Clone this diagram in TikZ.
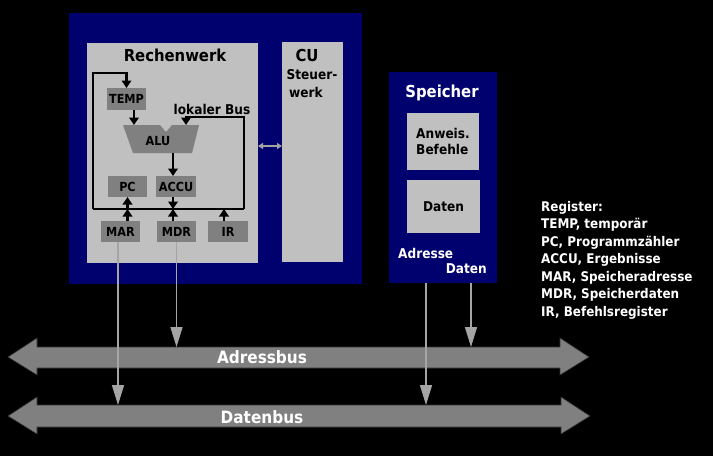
\documentclass[tikz,border=0pt]{standalone}
\usepackage{fontspec}
\setmainfont{DejaVu Sans Condensed}
\usetikzlibrary{arrows.meta}
\definecolor{navy}{RGB}{0,0,110}
\definecolor{lightg}{RGB}{192,192,192}
\definecolor{darkg}{RGB}{128,128,128}
\definecolor{busg}{RGB}{128,128,128}
\definecolor{conng}{RGB}{165,165,165}
\newcommand{\fsz}[1]{\bfseries\fontsize{#1}{#1}\selectfont}
\begin{document}
\begin{tikzpicture}[x=1pt,y=-1pt,
  box/.style={draw=none,inner sep=0pt,outer sep=0pt},
  reg/.style={box,fill=darkg,text=black,minimum height=21pt,font=\fsz{12.5}},
  title/.style={inner sep=0pt,font=\fsz{16.5}},
  lbl/.style={inner sep=0pt,font=\fsz{13.5}},
  wire/.style={draw=black,line width=2.2pt},
  wtip/.style={wire,-{Triangle[length=7.5pt,width=9.5pt]}},
  conn/.style={draw=conng,line width=1.5pt,-{Triangle[length=20pt,width=12pt]}},
  busshape/.style={fill=busg,draw=black!60!busg,line width=0.6pt},
  buslbl/.style={inner sep=0pt,text=white,font=\fsz{17}}
]
\fill[black] (0,0) rectangle (713,456);
\useasboundingbox (0,0) rectangle (713,456);

% CPU
\node[box,fill=navy,minimum width=293pt,minimum height=271pt] (cpu) at (215.5,148.5) {};
\node[box,fill=lightg,minimum width=171pt,minimum height=220pt] (rw) at (172.5,153) {};
\node[box,fill=lightg,minimum width=61pt,minimum height=220pt] (cu) at (312.5,152) {};
\node[title] (rwt) at (175,55) {Rechenwerk};
\node[title] (cut) at (307,55) {CU};
\node[lbl] (st1) at (312,75) {Steuer-};
\node[lbl] (st2) at (306,92) {werk};

\node[reg,minimum width=39pt,minimum height=22pt] (temp) at (126.5,99) {TEMP};
\node[reg,minimum width=39pt] (pc) at (127.5,186.5) {PC};
\node[reg,minimum width=40pt] (accu) at (176,186.5) {ACCU};
\node[reg,minimum width=39pt] (mar) at (120.5,231.5) {MAR};
\node[reg,minimum width=39pt] (mdr) at (176.5,231.5) {MDR};
\node[reg,minimum width=40pt] (ir) at (228,231.5) {IR};

% ALU
\fill[darkg] (123,125) -- (160,125) -- (166,132) -- (172,125) -- (199,125) -- (192,153) -- (133,153) -- cycle;
\node[inner sep=0pt,font=\fsz{12.5}] (alu) at (158,141) {ALU};
\node[lbl] (lok) at (212,109) {lokaler Bus};

% local bus
\coordinate (lbl) at (93,209);
\coordinate (lbr) at (244,209);
\coordinate (ltl) at (93,73);
\coordinate (rtop) at (244,117);
\coordinate (rtl) at (186,117);
\coordinate (aluR) at (186,125);
\coordinate (aluL) at (134,125);
\coordinate (aluB) at (173,153);
\coordinate (irUp) at (224,209);

\draw[wire] (lbl) -- (lbr);
\draw[wtip] (lbl) -- (ltl) -- (ltl -| temp.north) -- (temp.north);
\draw[wtip] (lbr) -- (rtop) -- (rtl) -- (aluR);
\draw[wtip] (temp.south -| aluL) -- (aluL);
\draw[wtip] (aluB) -- (aluB |- accu.north);
\draw[wtip] (lbl -| pc.south) -- (pc.south);
\draw[wtip] (mar.north -| pc.south) -- (lbl -| pc.south);
\draw[wtip] (accu.south -| aluB) -- (lbl -| aluB);
\draw[wtip] (mdr.north -| aluB) -- (lbl -| aluB);
\draw[wtip] (ir.north -| irUp) -- (irUp);

\draw[draw=lightg!85!black,line width=1.5pt,{Triangle[length=5pt,width=6pt]}-{Triangle[length=5pt,width=6pt]}] (rw.east |- 0,146) -- (cu.west |- 0,146);

% Speicher
\node[box,fill=navy,minimum width=108pt,minimum height=211pt] (sp) at (443,177.5) {};
\node[title,text=white] (spt) at (442,93) {Speicher};
\node[box,fill=lightg,minimum width=72pt,minimum height=57pt,align=left,font=\bfseries\fontsize{13.5}{15.5}\selectfont] (anw) at (443,141.5) {Anweis.\\Befehle};
\node[box,fill=lightg,minimum width=73pt,minimum height=53pt,font=\fsz{13.5}] (dat) at (443.5,206.5) {Daten};
\node[lbl,text=white,anchor=west] (adr) at (398,253) {Adresse};
\node[lbl,text=white,anchor=east] (dt) at (487,269) {Daten};
\coordinate (spA) at (426,283);
\coordinate (spD) at (471,283);

% Register list
\node[anchor=north west,inner sep=0pt,text=white,align=left,font=\bfseries\fontsize{13.3}{17.5}\selectfont] (legend) at (541,201) {Register:\\TEMP, temporär\\PC, Programmzähler\\ACCU, Ergebnisse\\MAR, Speicheradresse\\MDR, Speicherdaten\\IR, Befehlsregister};

% Buses
\path[busshape] (8,357) -- (37,338) -- (37,347) -- (560,347) -- (560,338) -- (589,357) -- (560,375) -- (560,368) -- (37,368) -- (37,375) -- cycle;
\path[busshape] (8,416) -- (37,397) -- (37,405) -- (561,405) -- (561,397) -- (590,416) -- (561,434) -- (561,427) -- (37,427) -- (37,434) -- cycle;
\node[buslbl] (abus) at (262,357) {Adressbus};
\node[buslbl] (dbus) at (262,417) {Datenbus};
\coordinate (abTop) at (0,347);
\coordinate (dbTop) at (0,405);

% connectors
\draw[conn] ([xshift=-2.5pt]mar.south) -- ([xshift=-2.5pt]mar.south |- dbTop);
\draw[conn] (mdr.south) -- (mdr.south |- abTop);
\draw[conn] (spA) -- (spA |- dbTop);
\draw[conn] (spD) -- (spD |- abTop);
\end{tikzpicture}
\end{document}
